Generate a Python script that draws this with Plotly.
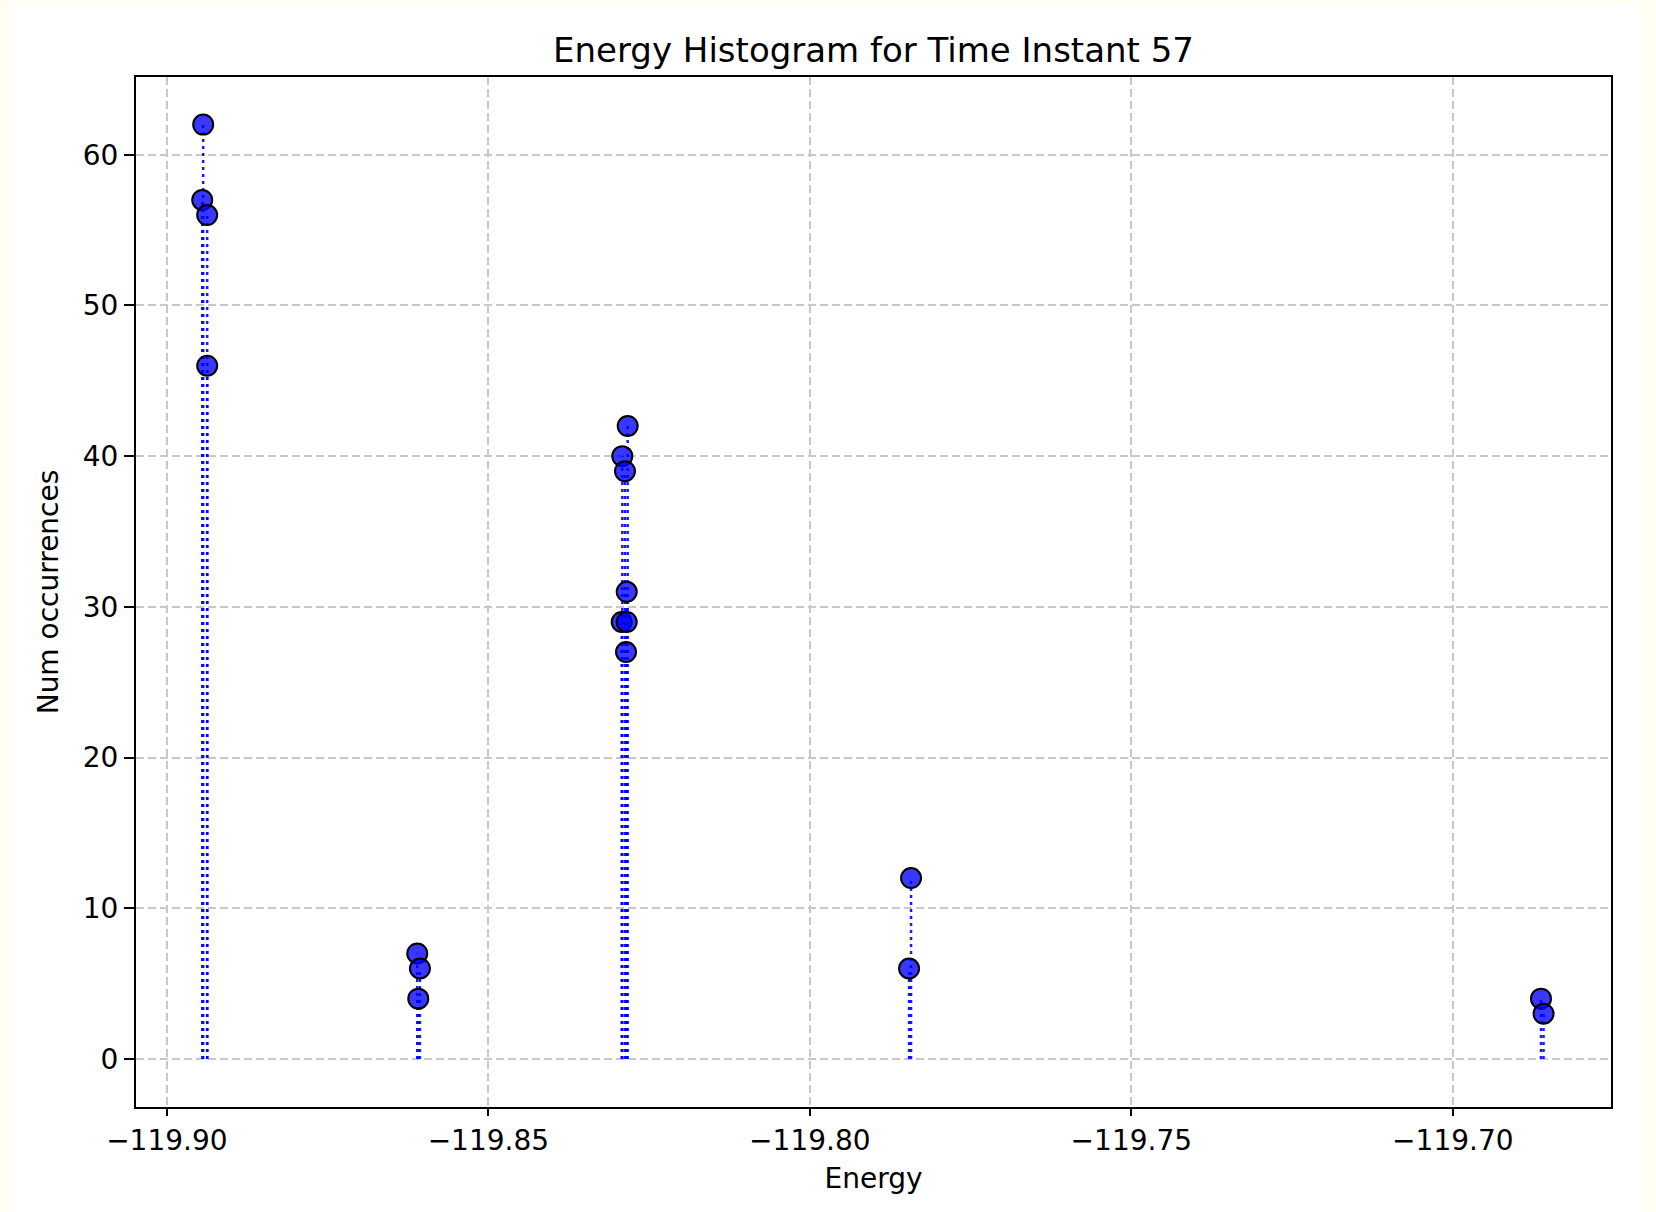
import plotly.graph_objects as go

# Data
energies = [
    -119.89435, -119.89450, -119.89373, -119.89373,
    -119.86106, -119.86064, -119.86090,
    -119.82833, -119.82917, -119.82875, -119.82848, -119.82926, -119.82848, -119.82859,
    -119.78426, -119.78457,
    -119.68629, -119.68589,
]
counts = [
    62, 57, 56, 46,
    7, 6, 4,
    42, 40, 39, 31, 29, 29, 27,
    12, 6,
    4, 3,
]
x_tick_vals = [-119.90, -119.85, -119.80, -119.75, -119.70]
x_tick_text = ["\u2212119.90", "\u2212119.85", "\u2212119.80", "\u2212119.75", "\u2212119.70"]
y_tick_vals = [0, 10, 20, 30, 40, 50, 60]
y_tick_text = ["0", "10", "20", "30", "40", "50", "60"]

# stems
sx, sy = [], []
for e, c in zip(energies, counts):
    sx += [e, e, None]
    sy += [0, c, None]

FONT = "DejaVu Sans"
fig = go.Figure()
fig.add_trace(go.Scatter(
    x=sx, y=sy, mode="lines",
    line=dict(color="rgba(0,0,255,0.9)", width=2.5, dash="3px,4px"),
    hoverinfo="skip", showlegend=False,
))
fig.add_trace(go.Scatter(
    x=energies, y=counts, mode="markers",
    marker=dict(size=20, color="rgba(0,0,255,0.78)", line=dict(color="black", width=2)),
    showlegend=False,
))

axis_common = dict(
    showline=True, linecolor="black", linewidth=2, mirror=True,
    ticks="outside", tickwidth=2, tickcolor="black",
    showgrid=True, gridcolor="#c8c8c8", gridwidth=1.5, griddash="8px,4px",
    zeroline=False,
    tickfont=dict(family=FONT, size=28, color="black"),
)

fig.update_layout(
    width=1656, height=1212,
    margin=dict(l=136, r=45, t=77, b=105),
    paper_bgcolor="#fffef0",
    plot_bgcolor="white",
    font=dict(family=FONT, color="black"),
    title=dict(text="Energy Histogram for Time Instant 57", x=0.5, xref="paper",
               xanchor="center", y=1 - 50 / 1212, yanchor="middle",
               font=dict(family=FONT, size=34, color="black")),
    xaxis=dict(range=[-119.9048, -119.6754], tickvals=x_tick_vals, ticktext=x_tick_text,
               ticklen=7,
               title=dict(text="Energy", font=dict(family=FONT, size=28), standoff=13),
               **axis_common),
    yaxis=dict(range=[-3.19, 65.16], tickvals=y_tick_vals, ticktext=y_tick_text,
               ticklen=10,
               title=dict(text="Num occurrences", font=dict(family=FONT, size=28), standoff=16),
               **axis_common),
    shapes=[dict(type="rect", xref="paper", yref="paper", layer="below",
                 x0=-126 / 1475, x1=1 + 30 / 1475, y0=-105 / 1030, y1=1 + 75 / 1030,
                 fillcolor="white", line=dict(width=0))],
)

fig.write_html("out.html")
